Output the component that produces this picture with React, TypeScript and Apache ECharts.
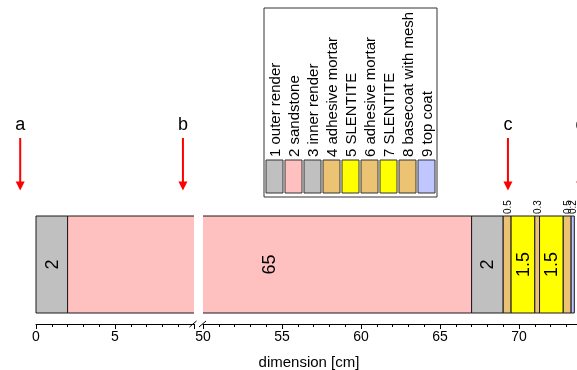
import React, { useEffect, useRef } from 'react';
import * as echarts from 'echarts';

const layerNames = [
  '1 outer render',
  '2 sandstone',
  '3 inner render',
  '4 adhesive mortar',
  '5 SLENTITE',
  '6 adhesive mortar',
  '7 SLENTITE',
  '8 basecoat with mesh',
  '9 top coat',
];
const layerThickness = [2, 65, 2, 0.5, 1.5, 0.3, 1.5, 0.5, 0.2];
const layerColors = ['#c0c0c0', '#ffc0c0', '#c0c0c0', '#ebc373', '#ffff00', '#ebc373', '#ffff00', '#ebc373', '#c0c6ff'];
const layerLabelAt: (number | null)[] = [null, 54.2, null, null, null, null, null, null, null];

const arrowLabels = ['a', 'b', 'c', 'd'];
const arrowPositions = [-1.0, 9.3, 69.3, 73.9];
const arrowAxis = [0, 0, 1, 1];

const leftRange = [0, 10];
const rightRange = [50, 75];
const tickInterval = 5;
const axisTitle = 'dimension [cm]';

const FONT = '"Liberation Sans", Arial, Helvetica, sans-serif';

function buildLayers() {
  const out: number[][] = [];
  let acc = 0;
  layerThickness.forEach((t, i) => {
    out.push([acc, +(acc + t).toFixed(3), i]);
    acc += t;
  });
  return out;
}

export default function App() {
  const ref = useRef<HTMLDivElement>(null);
  useEffect(() => {
    if (!ref.current) return;
    const chart = echarts.init(ref.current, null, { renderer: 'svg' });
    const layers = buildLayers();

    const renderItem = (params: any, api: any) => {
      const s = api.value(0);
      const e = api.value(1);
      const i = api.value(2);
      const cs = params.coordSys;
      const xs = api.coord([s, 0])[0];
      const xe = api.coord([e, 0])[0];
      const left = Math.max(xs, cs.x);
      const right = Math.min(xe, cs.x + cs.width);
      if (right <= left) return { type: 'group', children: [] };
      const top = cs.y;
      const bottom = cs.y + cs.height;
      const stroke = '#1a1a1a';
      const children: any[] = [
        { type: 'rect', shape: { x: left, y: top, width: right - left, height: bottom - top }, style: { fill: layerColors[i] } },
        { type: 'line', shape: { x1: left, y1: top, x2: right, y2: top }, style: { stroke, lineWidth: 1 } },
        { type: 'line', shape: { x1: left, y1: bottom, x2: right, y2: bottom }, style: { stroke, lineWidth: 1 } },
      ];
      if (xs >= cs.x - 0.5 && xs <= cs.x + cs.width) {
        children.push({ type: 'line', shape: { x1: xs, y1: top, x2: xs, y2: bottom }, style: { stroke, lineWidth: 1 } });
      }
      if (xe >= cs.x && xe <= cs.x + cs.width + 0.5) {
        children.push({ type: 'line', shape: { x1: xe, y1: top, x2: xe, y2: bottom }, style: { stroke, lineWidth: 1 } });
      }
      const t = layerThickness[i];
      const label = String(t);
      if (t >= 1) {
        const lx = layerLabelAt[i] != null ? api.coord([layerLabelAt[i], 0])[0] : (xs + xe) / 2;
        if (lx >= cs.x && lx <= cs.x + cs.width) {
          children.push({
            type: 'text',
            x: lx,
            y: (top + bottom) / 2,
            rotation: Math.PI / 2,
            style: {
              text: label, fill: '#000', font: `18px ${FONT}`,
              align: 'center', verticalAlign: 'middle', textAlign: 'center', textVerticalAlign: 'middle',
            },
          });
        }
      } else {
        const lx = (xs + xe) / 2;
        if (lx >= cs.x && lx <= cs.x + cs.width) {
          children.push({
            type: 'text',
            x: lx,
            y: top - 2,
            rotation: Math.PI / 2,
            style: {
              text: label, fill: '#000', font: `10px ${FONT}`,
              align: 'left', verticalAlign: 'middle', textAlign: 'left', textVerticalAlign: 'middle',
            },
          });
        }
      }
      return { type: 'group', children };
    };

    const axisCommon = (range: number[], gi: number) => ({
      type: 'value',
      gridIndex: gi,
      min: range[0],
      max: range[1],
      interval: tickInterval,
      position: 'bottom',
      offset: 11,
      axisLine: { show: true, onZero: false, lineStyle: { color: '#000', width: 1 } },
      axisTick: { show: true, length: 5, inside: false, lineStyle: { color: '#000' } },
      minorTick: { show: true, splitNumber: 5, length: 3, lineStyle: { color: '#000' } },
      axisLabel: { show: true, color: '#000', fontSize: 14, fontFamily: FONT, margin: 5, showMaxLabel: false, showMinLabel: true },
      splitLine: { show: false },
      minorSplitLine: { show: false },
    });

    chart.setOption({
      animation: false,
      textStyle: { fontFamily: FONT },
      grid: [
        { left: 36, top: 216, width: 158, height: 97, outerBoundsMode: 'none', containLabel: false },
        { left: 203, top: 216, width: 395, height: 97, outerBoundsMode: 'none', containLabel: false },
      ],
      xAxis: [axisCommon(leftRange, 0), axisCommon(rightRange, 1)],
      yAxis: [
        { type: 'value', gridIndex: 0, min: 0, max: 1, show: false },
        { type: 'value', gridIndex: 1, min: 0, max: 1, show: false },
      ],
      series: [
        { type: 'custom', xAxisIndex: 0, yAxisIndex: 0, renderItem, data: layers, silent: true },
        { type: 'custom', xAxisIndex: 1, yAxisIndex: 1, renderItem, data: layers, silent: true },
      ],
    });

    const elements: any[] = [];
    // arrows
    arrowLabels.forEach((lab, k) => {
      const px = chart.convertToPixel({ xAxisIndex: arrowAxis[k] } as any, arrowPositions[k]) as number;
      elements.push({
        type: 'text', x: px, y: 124,
        style: { text: lab, fill: '#000', font: `18px ${FONT}`, align: 'center', verticalAlign: 'middle', textAlign: 'center', textVerticalAlign: 'middle' },
      });
      elements.push({ type: 'line', shape: { x1: px, y1: 138, x2: px, y2: 183 }, style: { stroke: '#ff0000', lineWidth: 2 } });
      elements.push({ type: 'polygon', shape: { points: [[px - 4.5, 181.5], [px + 4.5, 181.5], [px, 190.5]] }, style: { fill: '#ff0000' } });
    });
    // axis break marks
    const axisY = 313 + 11;
    const bx1 = chart.convertToPixel({ xAxisIndex: 0 } as any, leftRange[1]) as number;
    const bx2 = chart.convertToPixel({ xAxisIndex: 1 } as any, rightRange[0]) as number;
    [bx1 - 1, bx2 - 0.5].forEach((bx) => {
      elements.push({ type: 'line', shape: { x1: bx - 3.5, y1: axisY + 3, x2: bx + 3.5, y2: axisY - 3 }, style: { stroke: '#000', lineWidth: 1 } });
    });
    // axis title
    elements.push({
      type: 'text', x: 309, y: 361,
      style: { text: axisTitle, fill: '#000', font: `15px ${FONT}`, align: 'center', verticalAlign: 'middle', textAlign: 'center', textVerticalAlign: 'middle' },
    });
    // legend
    elements.push({ type: 'rect', shape: { x: 264, y: 8, width: 173, height: 189 }, style: { fill: '#fff', stroke: '#333', lineWidth: 1 } });
    layerNames.forEach((name, i) => {
      const sx = 266 + 19 * i;
      elements.push({ type: 'rect', shape: { x: sx, y: 160, width: 17, height: 33 }, style: { fill: layerColors[i], stroke: '#333', lineWidth: 1 } });
      elements.push({
        type: 'text', x: sx + 8.5, y: 157, rotation: Math.PI / 2,
        style: { text: name, fill: '#000', font: `15px ${FONT}`, align: 'left', verticalAlign: 'middle', textAlign: 'left', textVerticalAlign: 'middle' },
      });
    });

    chart.setOption({ graphic: { elements } });

    return () => chart.dispose();
  }, []);

  return <div ref={ref} style={{ position: 'fixed', left: 0, top: 0, width: 577, height: 370 }} />;
}
